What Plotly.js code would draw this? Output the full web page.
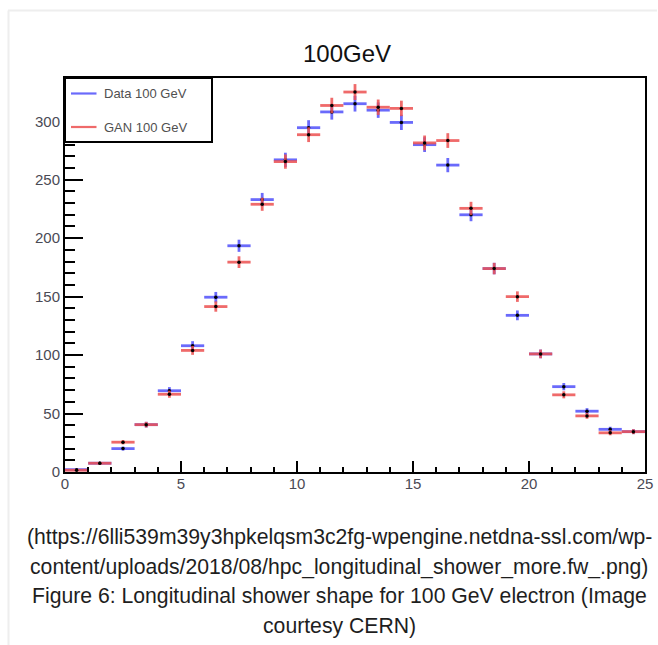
<!DOCTYPE html>
<html>
<head>
<meta charset="utf-8">
<script src="https://cdn.plot.ly/plotly-3.0.1.min.js"></script>
<style>html,body{margin:0;padding:0;background:#fff;}#chart{width:658px;height:645px;}</style>
</head>
<body>
<div id="chart"></div>
<script>
// Bin centres (layer index 0..25)
const binCenters = [0.5,1.5,2.5,3.5,4.5,5.5,6.5,7.5,8.5,9.5,10.5,11.5,12.5,13.5,14.5,15.5,16.5,17.5,18.5,19.5,20.5,21.5,22.5,23.5,24.5];
const binHalfWidth = 0.5;
// Data 100 GeV (blue)
const dataValues = [2,7.5,20,40.5,69.5,108,149.5,193.5,233,267,294.5,308,315,309.5,299,280,262.5,220,174,134,101,73,52,36.5,34.5];
const dataErrors = [0.6,1.1,1.7,2.4,3.1,3.9,4.5,5.2,5.7,6.1,6.4,6.6,6.7,6.6,6.5,6.3,6.1,5.5,4.9,4.2,3.7,3.1,2.6,2.2,2.1];
// GAN 100 GeV (red)
const ganValues = [1.5,7.5,25.5,40.5,66.5,104,141.5,179.5,229,265.5,288.5,313.5,325,312,311,281.5,283.5,225.5,174,150,101,66,48,33.5,34.5];
const ganErrors = [0.5,1.1,1.9,2.4,3.0,3.8,4.4,5.0,5.6,6.1,6.3,6.6,6.8,6.6,6.6,6.3,6.3,5.6,4.9,4.5,3.7,3.0,2.5,2.1,2.1];
const seriesNames = ["Data 100 GeV","GAN 100 GeV"];
const xTickVals = [0,5,10,15,20,25];
const yTickVals = [0,50,100,150,200,250,300];

const blue = 'rgba(80,80,250,0.85)';
const red = 'rgba(236,80,80,0.85)';

function trace(y, err, color, name){
  return {
    type:'scatter', mode:'markers', x:binCenters, y:y, name:name,
    marker:{color:'black', size:3.5},
    error_x:{type:'constant', value:binHalfWidth, thickness:2.8, width:0, color:color},
    error_y:{type:'data', array:err, thickness:2.8, width:0, color:color},
    showlegend:false, hoverinfo:'x+y'
  };
}

const traces = [trace(dataValues, dataErrors, blue, seriesNames[0]), trace(ganValues, ganErrors, red, seriesNames[1])];

const W=658, H=645, L=65, R=13, T=78, B=173;
const pw = W-L-R, ph = H-T-B;
const px = v => (v-L)/pw;
const py = v => (H-B-v)/ph;

const font = 'Liberation Sans, Arial, Helvetica, sans-serif';
const caption = [
  "(https://6lli539m39y3hpkelqsm3c2fg-wpengine.netdna-ssl.com/wp-",
  "content/uploads/2018/08/hpc_longitudinal_shower_more.fw_.png)",
  "Figure 6: Longitudinal shower shape for 100 GeV electron (Image",
  "courtesy CERN)"
];
const capY = [537, 566.5, 596, 626];

const annotations = caption.map((t,i)=>({
  text:t, xref:'paper', yref:'paper', x:px(339), y:py(capY[i]),
  xanchor:'center', yanchor:'middle', showarrow:false,
  font:{family:font, size:21.2, color:'#1e1e1e'}
}));
annotations.push({text:seriesNames[0], xref:'paper', yref:'paper', x:px(101.5), y:py(93.5), xanchor:'left', yanchor:'middle', showarrow:false, font:{family:font, size:13, color:'#505050'}});
annotations.push({text:seriesNames[1], xref:'paper', yref:'paper', x:px(101.5), y:py(127), xanchor:'left', yanchor:'middle', showarrow:false, font:{family:font, size:13, color:'#505050'}});

const shapes = [
  // page border
  {type:'line', xref:'paper', yref:'paper', x0:px(8.5), x1:px(8.5), y0:py(10.5), y1:py(645), line:{color:'#eeeeee', width:2}},
  {type:'line', xref:'paper', yref:'paper', x0:px(8), x1:px(657), y0:py(10.5), y1:py(10.5), line:{color:'#eeeeee', width:2}},
  // legend box
  {type:'rect', xref:'paper', yref:'paper', x0:0, x1:px(212), y0:py(142), y1:1, line:{color:'black', width:2}, fillcolor:'white', layer:'above'},
  {type:'line', xref:'paper', yref:'paper', x0:px(71), x1:px(96.5), y0:py(93.5), y1:py(93.5), line:{color:blue, width:2.2}, layer:'above'},
  {type:'line', xref:'paper', yref:'paper', x0:px(71), x1:px(96.5), y0:py(127), y1:py(127), line:{color:red, width:2.2}, layer:'above'}
];

const layout = {
  width:W, height:H,
  margin:{l:L, r:R, t:T, b:B, pad:0},
  paper_bgcolor:'white', plot_bgcolor:'white',
  font:{family:font},
  title:{text:'100GeV', font:{family:font, size:24, color:'#111'}, xref:'paper', x:px(347), xanchor:'center', yref:'container', y:1-54/H, yanchor:'middle'},
  xaxis:{range:[0,25], tickvals:xTickVals, ticks:'inside', ticklen:11, tickwidth:2, tickcolor:'black',
    minor:{dtick:1, ticks:'inside', ticklen:5, tickwidth:2, tickcolor:'black'},
    showline:true, linewidth:2, linecolor:'black', mirror:true, showgrid:false, zeroline:false,
    ticklabelstandoff:-3,
    tickfont:{family:font, size:15, color:'#4a4a55'}},
  yaxis:{range:[0,337], tickvals:yTickVals, ticks:'inside', ticklen:18, tickwidth:2, tickcolor:'black',
    minor:{dtick:10, ticks:'inside', ticklen:10, tickwidth:2, tickcolor:'black'},
    showline:true, linewidth:2, linecolor:'black', mirror:true, showgrid:false, zeroline:false,
    tickfont:{family:font, size:15, color:'#4a4a55'}},
  shapes:shapes, annotations:annotations, showlegend:false
};

Plotly.newPlot('chart', traces, layout, {displayModeBar:false, staticPlot:true});
</script>
</body>
</html>
